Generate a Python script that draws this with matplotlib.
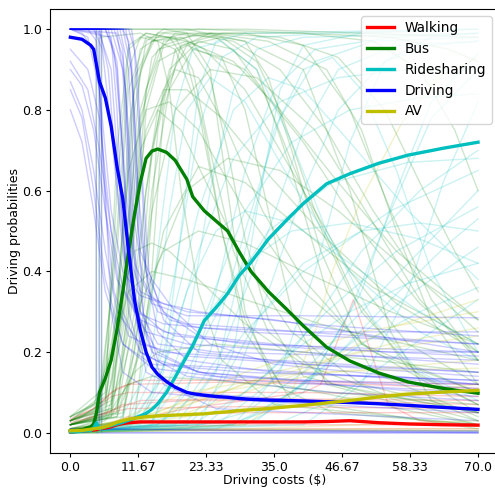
import matplotlib
matplotlib.use("Agg")
import matplotlib.pyplot as plt

# mean curves on a common cost grid
COST = [0, 2, 3.5, 4, 4.5, 5, 6, 7, 8, 9, 10, 11, 12, 13, 14, 15, 16.5, 18,
        20, 21, 23, 25, 27, 29, 31, 34, 37, 40, 44, 48, 53, 58, 64, 70]
WALKING = [0.003, 0.004, 0.006, 0.007, 0.008, 0.01, 0.012, 0.015, 0.02, 0.023,
           0.025, 0.026, 0.027, 0.027, 0.027, 0.027, 0.027, 0.027, 0.027,
           0.027, 0.027, 0.027, 0.027, 0.027, 0.027, 0.027, 0.027, 0.027,
           0.028, 0.03, 0.025, 0.022, 0.02, 0.019]
BUS = [0.005, 0.008, 0.015, 0.022, 0.05, 0.1, 0.135, 0.18, 0.255, 0.35, 0.45,
       0.54, 0.62, 0.68, 0.698, 0.703, 0.695, 0.675, 0.628, 0.585, 0.55,
       0.525, 0.5, 0.448, 0.4, 0.35, 0.308, 0.265, 0.212, 0.178, 0.148, 0.126,
       0.11, 0.098]
RIDESHARING = [0.003, 0.004, 0.006, 0.012, 0.025, 0.01, 0.015, 0.018, 0.022,
               0.026, 0.031, 0.036, 0.042, 0.048, 0.058, 0.072, 0.1, 0.138,
               0.19, 0.215, 0.278, 0.31, 0.345, 0.39, 0.422, 0.48, 0.525,
               0.568, 0.617, 0.642, 0.668, 0.688, 0.705, 0.72]
DRIVING = [0.98, 0.975, 0.96, 0.95, 0.91, 0.87, 0.83, 0.76, 0.66, 0.58, 0.45,
           0.33, 0.255, 0.2, 0.163, 0.145, 0.127, 0.113, 0.1, 0.097, 0.093,
           0.09, 0.088, 0.085, 0.083, 0.081, 0.08, 0.079, 0.077, 0.075, 0.072,
           0.068, 0.063, 0.058]
AV = [0.005, 0.006, 0.009, 0.01, 0.011, 0.012, 0.015, 0.02, 0.026, 0.03,
      0.034, 0.036, 0.038, 0.04, 0.041, 0.042, 0.043, 0.044, 0.045, 0.046,
      0.047, 0.05, 0.052, 0.055, 0.057, 0.06, 0.064, 0.068, 0.074, 0.08,
      0.089, 0.096, 0.101, 0.105]

MODES = ["Walking", "Bus", "Ridesharing", "Driving", "AV"]
COLORS = ["r", "g", "c", "b", "y"]

X_TICKS = [0.0, 11.67, 23.33, 35.0, 46.67, 58.33, 70.0]
X_TICK_LABELS = ["0.0", "11.67", "23.33", "35.0", "46.67", "58.33", "70.0"]
Y_TICKS = [0.0, 0.2, 0.4, 0.6, 0.8, 1.0]

# individual respondents' curves, as (cost, probability) key points
WALK_THIN = [
    [(0, 0.03), (4, 0.05), (7, 0.09), (10, 0.1), (20, 0.1), (40, 0.1), (70, 0.09)],
    [(0, 0.035), (4, 0.06), (7, 0.1), (10, 0.12), (25, 0.125), (50, 0.12), (70, 0.11)],
    [(0, 0.03), (4, 0.06), (8, 0.11), (12, 0.13), (30, 0.13), (50, 0.125), (70, 0.12)],
    [(0, 0.01), (6, 0.02), (10, 0.04), (30, 0.05), (70, 0.05)],
    [(0, 0.02), (5, 0.04), (9, 0.07), (20, 0.08), (45, 0.08), (70, 0.07)],
    [(0, 0.0), (20, 0.06), (40, 0.1), (43, 0.12), (48.6, 0.33), (54.6, 0.07),
     (60, 0.03), (70, 0.02)],
    [(0, 0.005), (10, 0.015), (30, 0.02), (70, 0.02)],
    [(0, 0.02), (6, 0.05), (12, 0.08), (30, 0.085), (70, 0.08)],
    [(0, 0.002), (10, 0.008), (40, 0.01), (70, 0.01)],
    [(0, 0.004), (20, 0.006), (70, 0.005)],
    [(0, 0.025), (5, 0.045), (10, 0.06), (30, 0.065), (70, 0.06)],
]
BUS_THIN = [
    [(0, 0.02), (6, 0.05), (9, 0.3), (11, 0.8), (13, 0.97), (16, 1.0), (20, 0.99),
     (24, 0.9), (27, 0.6), (30, 0.3), (35, 0.12), (45, 0.05), (70, 0.02)],
    [(0, 0.03), (5, 0.06), (8, 0.3), (10, 0.75), (12, 0.95), (16, 0.99), (25, 0.98),
     (32, 0.9), (38, 0.65), (44, 0.35), (52, 0.15), (70, 0.04)],
    [(0, 0.04), (5, 0.1), (8, 0.45), (10, 0.85), (13, 0.98), (18, 0.98), (21, 0.9),
     (24, 0.7), (28, 0.45), (34, 0.25), (45, 0.12), (70, 0.05)],
    [(0, 0.01), (7, 0.04), (10, 0.3), (12, 0.75), (14, 0.93), (18, 0.99), (30, 0.99),
     (40, 0.96), (48, 0.8), (55, 0.55), (62, 0.33), (70, 0.18)],
    [(0, 0.02), (8, 0.05), (11, 0.3), (13, 0.6), (15, 0.8), (18, 0.9), (22, 0.88),
     (27, 0.75), (33, 0.55), (40, 0.38), (50, 0.22), (70, 0.1)],
    [(0, 0.0), (4.4, 0.0), (4.5, 1.0), (30, 1.0), (50, 0.99), (70, 0.98)],
    [(0, 0.0), (5.3, 0.0), (5.4, 1.0), (20, 1.0), (30, 0.97), (40, 0.9), (48, 0.6),
     (55, 0.25), (62, 0.08), (70, 0.03)],
    [(0, 0.0), (4.9, 0.0), (5.0, 0.98), (12, 0.99), (18, 0.95), (22, 0.8),
     (26, 0.5), (30, 0.25), (38, 0.08), (70, 0.01)],
    [(0, 0.02), (6, 0.08), (9, 0.35), (11, 0.45), (14, 0.47), (17, 0.45), (22, 0.38),
     (30, 0.27), (40, 0.17), (55, 0.09), (70, 0.05)],
    [(0, 0.03), (7, 0.06), (10, 0.25), (13, 0.6), (16, 0.85), (20, 0.96), (26, 0.98),
     (32, 0.92), (36, 0.8), (42, 0.55), (50, 0.3), (60, 0.14), (70, 0.07)],
    [(0, 0.02), (5, 0.05), (8, 0.5), (10, 0.9), (12, 0.98), (15, 0.97), (17, 0.85),
     (19, 0.6), (22, 0.35), (26, 0.18), (35, 0.07), (70, 0.02)],
    [(0, 0.04), (6, 0.08), (9, 0.4), (12, 0.8), (15, 0.95), (20, 0.97), (28, 0.92),
     (36, 0.8), (46, 0.62), (56, 0.45), (70, 0.28)],
    [(0, 0.01), (9, 0.03), (12, 0.3), (14, 0.6), (17, 0.85), (21, 0.95), (26, 0.93),
     (30, 0.8), (34, 0.55), (38, 0.3), (44, 0.12), (70, 0.02)],
    [(0, 0.03), (6, 0.06), (9, 0.25), (11, 0.55), (13, 0.75), (16, 0.85), (20, 0.85),
     (26, 0.78), (34, 0.64), (44, 0.48), (56, 0.32), (70, 0.2)],
    [(0, 0.02), (7, 0.05), (10, 0.5), (12, 0.9), (15, 0.99), (22, 1.0), (40, 0.99),
     (52, 0.97), (60, 0.9), (66, 0.75), (70, 0.6)],
    [(0, 0.04), (4, 0.07), (7, 0.2), (10, 0.35), (14, 0.4), (20, 0.38), (30, 0.33),
     (45, 0.26), (70, 0.18)],
    [(0, 0.02), (8, 0.04), (11, 0.2), (14, 0.55), (18, 0.8), (24, 0.9), (32, 0.88),
     (42, 0.75), (52, 0.52), (60, 0.33), (70, 0.18)],
    [(0, 0.03), (6, 0.1), (8, 0.6), (10, 0.95), (13, 0.99), (20, 0.97), (24, 0.88),
     (27, 0.7), (30, 0.48), (34, 0.28), (40, 0.14), (70, 0.03)],
    [(0, 0.01), (10, 0.03), (13, 0.35), (15, 0.75), (18, 0.95), (24, 0.99), (34, 0.97),
     (44, 0.9), (50, 0.75), (56, 0.5), (62, 0.28), (70, 0.12)],
    [(0, 0.02), (7, 0.04), (9, 0.1), (11, 0.15), (15, 0.2), (25, 0.22), (40, 0.2),
     (70, 0.15)],
    [(0, 0.03), (7, 0.08), (9, 0.5), (11, 0.88), (14, 0.97), (19, 0.98), (23, 0.95),
     (30, 0.85), (38, 0.65), (48, 0.4), (58, 0.22), (70, 0.12)],
    [(0, 0.02), (8, 0.06), (11, 0.4), (13, 0.8), (16, 0.96), (22, 0.99), (30, 0.97),
     (34, 0.88), (38, 0.7), (43, 0.45), (50, 0.22), (70, 0.05)],
    [(0, 0.01), (6, 0.03), (8, 0.08), (10, 0.12), (14, 0.14), (25, 0.13), (45, 0.1),
     (70, 0.07)],
    [(0, 0.02), (8, 0.04), (12, 0.2), (15, 0.42), (20, 0.6), (27, 0.68), (36, 0.65),
     (46, 0.55), (58, 0.4), (70, 0.28)],
    [(0, 0.03), (6, 0.07), (9, 0.45), (11, 0.85), (14, 0.97), (20, 0.99), (28, 0.97),
     (36, 0.9), (44, 0.75), (52, 0.55), (60, 0.38), (70, 0.25)],
    [(0, 0.02), (9, 0.04), (12, 0.35), (14, 0.7), (17, 0.9), (22, 0.97), (28, 0.95),
     (33, 0.85), (40, 0.6), (48, 0.35), (58, 0.16), (70, 0.07)],
    [(0, 0.04), (5, 0.08), (8, 0.35), (10, 0.65), (13, 0.8), (17, 0.82), (22, 0.75),
     (30, 0.55), (40, 0.35), (52, 0.2), (70, 0.1)],
    [(0, 0.03), (7, 0.06), (10, 0.4), (12, 0.7), (15, 0.8), (19, 0.75), (24, 0.6),
     (30, 0.42), (38, 0.25), (50, 0.12), (70, 0.05)],
    [(0, 0.02), (6, 0.04), (9, 0.15), (12, 0.32), (16, 0.45), (22, 0.5), (30, 0.47),
     (40, 0.4), (55, 0.3), (70, 0.22)],
    [(0, 0.01), (11, 0.03), (14, 0.4), (16, 0.8), (19, 0.96), (26, 0.99), (40, 0.99),
     (55, 0.98), (65, 0.95), (70, 0.92)],
    [(0, 0.03), (6, 0.09), (8, 0.7), (10, 0.96), (13, 0.99), (17, 0.98), (20, 0.92),
     (23, 0.75), (26, 0.5), (30, 0.28), (36, 0.12), (70, 0.02)],
    [(0, 0.02), (8, 0.05), (11, 0.5), (13, 0.85), (16, 0.97), (24, 0.99), (36, 0.98),
     (46, 0.93), (54, 0.8), (60, 0.62), (66, 0.45), (70, 0.35)],
    [(0, 0.03), (7, 0.07), (10, 0.45), (12, 0.78), (15, 0.92), (20, 0.96), (30, 0.9),
     (40, 0.72), (50, 0.5), (60, 0.32), (70, 0.2)],
    [(0, 0.02), (9, 0.05), (12, 0.22), (16, 0.5), (22, 0.66), (30, 0.62), (40, 0.5),
     (52, 0.36), (70, 0.22)],
    [(0, 0.005), (20, 0.01), (70, 0.005)],
]
RIDE_THIN = [
    [(0, 0), (10, 0.01), (14, 0.1), (18, 0.4), (22, 0.75), (26, 0.93), (32, 0.98),
     (45, 0.99), (70, 1.0)],
    [(0, 0), (15, 0.02), (20, 0.1), (25, 0.35), (30, 0.65), (35, 0.85), (42, 0.95),
     (55, 0.98), (70, 0.99)],
    [(0, 0), (20, 0.02), (28, 0.12), (34, 0.35), (40, 0.6), (46, 0.8), (54, 0.92),
     (62, 0.96), (70, 0.97)],
    [(0, 0), (20, 0.01), (30, 0.05), (40, 0.15), (50, 0.3), (60, 0.45), (70, 0.6)],
    [(0, 0), (25, 0.01), (35, 0.06), (45, 0.18), (55, 0.33), (65, 0.47), (70, 0.53)],
    [(0, 0), (12, 0.02), (16, 0.15), (19, 0.5), (22, 0.85), (25, 0.97), (30, 0.99),
     (70, 1.0)],
    [(0, 0), (15, 0.02), (22, 0.1), (30, 0.25), (40, 0.4), (55, 0.55), (70, 0.65)],
    [(0, 0), (18, 0.02), (25, 0.15), (30, 0.45), (35, 0.75), (40, 0.9), (45, 0.93),
     (50, 0.85), (56, 0.65), (62, 0.4), (70, 0.2)],
    [(0, 0), (10, 0.02), (16, 0.2), (22, 0.55), (28, 0.8), (34, 0.88), (40, 0.85),
     (48, 0.72), (58, 0.55), (70, 0.38)],
    [(0, 0), (30, 0.02), (40, 0.1), (48, 0.3), (55, 0.55), (62, 0.78), (70, 0.9)],
    [(0, 0), (14, 0.03), (20, 0.15), (26, 0.32), (34, 0.5), (45, 0.62), (58, 0.67),
     (70, 0.68)],
    [(0, 0), (22, 0.02), (28, 0.2), (32, 0.55), (36, 0.85), (40, 0.96), (50, 0.99),
     (70, 1.0)],
    [(0, 0), (35, 0.02), (45, 0.08), (55, 0.18), (62, 0.25), (70, 0.33)],
    [(0, 0), (8, 0.02), (12, 0.12), (15, 0.45), (18, 0.8), (21, 0.95), (26, 0.97),
     (32, 0.9), (38, 0.72), (44, 0.5), (52, 0.28), (60, 0.15), (70, 0.08)],
    [(0, 0), (20, 0.03), (26, 0.12), (32, 0.28), (40, 0.42), (50, 0.5), (60, 0.52),
     (70, 0.5)],
    [(0, 0), (40, 0.02), (50, 0.12), (58, 0.35), (64, 0.62), (70, 0.82)],
    [(0, 0), (12, 0.04), (18, 0.15), (24, 0.3), (30, 0.42), (38, 0.5), (48, 0.52),
     (60, 0.48), (70, 0.42)],
    [(0, 0), (28, 0.02), (36, 0.15), (42, 0.4), (48, 0.72), (54, 0.92), (62, 0.98),
     (70, 0.99)],
    [(0, 0), (16, 0.03), (24, 0.2), (30, 0.5), (36, 0.78), (42, 0.92), (52, 0.97),
     (70, 0.98)],
    [(0, 0), (10, 0.03), (14, 0.2), (17, 0.55), (20, 0.8), (24, 0.88), (30, 0.82),
     (38, 0.62), (48, 0.4), (60, 0.25), (70, 0.18)],
    [(0, 0), (30, 0.03), (40, 0.12), (50, 0.22), (60, 0.3), (70, 0.36)],
    [(0, 0), (24, 0.03), (34, 0.15), (44, 0.3), (56, 0.45), (70, 0.56)],
    [(0, 0), (18, 0.04), (26, 0.2), (34, 0.5), (40, 0.75), (46, 0.9), (56, 0.96),
     (70, 0.97)],
    [(0, 0), (12, 0.03), (17, 0.2), (22, 0.45), (28, 0.68), (36, 0.82), (46, 0.88),
     (58, 0.9), (70, 0.9)],
    [(0, 0), (26, 0.03), (34, 0.12), (42, 0.28), (50, 0.45), (60, 0.6), (70, 0.7)],
    [(0, 0), (14, 0.02), (20, 0.25), (24, 0.6), (28, 0.85), (32, 0.95), (40, 0.98),
     (70, 0.99)],
    [(0, 0), (22, 0.03), (30, 0.1), (38, 0.2), (48, 0.3), (58, 0.37), (70, 0.42)],
    [(0, 0), (32, 0.03), (42, 0.15), (50, 0.35), (56, 0.6), (62, 0.82), (70, 0.94)],
    [(0, 0), (10, 0.02), (15, 0.12), (20, 0.35), (25, 0.5), (30, 0.55), (38, 0.52),
     (48, 0.42), (60, 0.3), (70, 0.22)],
    [(0, 0), (28, 0.02), (38, 0.1), (48, 0.22), (58, 0.34), (70, 0.46)],
    [(0, 0), (14, 0.03), (22, 0.25), (30, 0.55), (38, 0.72), (48, 0.8), (60, 0.83),
     (70, 0.84)],
    [(0, 0.003), (30, 0.006), (70, 0.004)],
]
DRIVE_THIN = [
    [(0, 1), (3, 1), (4.5, 0.97), (6, 0.6), (7, 0.3), (9, 0.15), (14, 0.1), (30, 0.08),
     (70, 0.05)],
    [(0, 1), (5, 0.99), (7, 0.9), (8.5, 0.6), (10, 0.35), (13, 0.25), (20, 0.22),
     (40, 0.2), (70, 0.17)],
    [(0, 1), (6, 1), (8, 0.92), (9.5, 0.6), (11, 0.42), (14, 0.32), (20, 0.29),
     (40, 0.29), (70, 0.285)],
    [(0, 1), (7, 1), (9, 0.9), (10, 0.6), (11, 0.3), (13, 0.15), (20, 0.1), (40, 0.08),
     (70, 0.06)],
    [(0, 1), (8, 0.99), (9.5, 0.85), (10.5, 0.5), (12, 0.3), (15, 0.22), (25, 0.2),
     (50, 0.19), (70, 0.18)],
    [(0, 0.9), (2, 0.86), (4, 0.75), (6, 0.55), (8, 0.38), (11, 0.3), (16, 0.27),
     (30, 0.25), (70, 0.22)],
    [(0, 0.87), (2, 0.8), (4, 0.65), (6, 0.45), (8, 0.3), (12, 0.22), (20, 0.19),
     (40, 0.17), (70, 0.14)],
    [(0, 0.85), (2, 0.78), (4, 0.6), (6, 0.38), (9, 0.22), (14, 0.16), (30, 0.13),
     (70, 0.1)],
    [(0, 1), (4, 1), (5.5, 0.95), (7, 0.75), (9, 0.45), (11, 0.3), (15, 0.2), (22, 0.15),
     (40, 0.13), (70, 0.12)],
    [(0, 1), (9, 1), (10.5, 0.9), (11.5, 0.55), (12.5, 0.3), (15, 0.18), (25, 0.14),
     (70, 0.11)],
    [(0, 1), (2, 0.99), (4, 0.95), (5, 0.85), (6, 0.55), (7.5, 0.35), (10, 0.24),
     (16, 0.2), (35, 0.18), (70, 0.15)],
    [(0, 1), (6, 1), (7.5, 0.95), (9, 0.7), (10, 0.45), (12, 0.35), (16, 0.32),
     (22, 0.3), (40, 0.27), (70, 0.24)],
    [(0, 1), (8.5, 1), (10, 0.9), (11, 0.6), (12, 0.45), (14, 0.38), (18, 0.3),
     (24, 0.22), (35, 0.17), (70, 0.12)],
    [(0, 1), (10, 1), (11, 0.95), (12, 0.7), (13, 0.4), (15, 0.25), (20, 0.18),
     (35, 0.15), (70, 0.13)],
    [(0, 1), (4.4, 1), (4.5, 0.0), (70, 0.0)],
    [(0, 1), (5.3, 1), (5.4, 0.0), (70, 0.0)],
    [(0, 1), (4.9, 1), (5.0, 0.01), (70, 0.0)],
    [(0, 1), (7, 0.98), (8, 0.8), (9, 0.5), (10, 0.3), (12, 0.2), (16, 0.17),
     (40, 0.15), (70, 0.12)],
    [(0, 1), (3, 0.98), (5, 0.85), (7, 0.55), (9, 0.4), (12, 0.34), (20, 0.3),
     (35, 0.28), (70, 0.2)],
    [(0, 1), (9, 1), (10, 0.97), (11, 0.8), (12, 0.5), (13.5, 0.35), (17, 0.28),
     (22, 0.26), (40, 0.25), (70, 0.25)],
    [(0, 0.95), (3, 0.9), (5, 0.78), (7, 0.5), (9, 0.3), (12, 0.2), (20, 0.14),
     (45, 0.1), (70, 0.08)],
    [(0, 1), (8, 1), (9, 0.95), (10, 0.7), (11, 0.45), (13, 0.25), (16, 0.12),
     (25, 0.06), (70, 0.03)],
    [(0, 1), (9.5, 1), (10.5, 0.92), (11.5, 0.62), (13, 0.4), (16, 0.3), (22, 0.24),
     (35, 0.22), (55, 0.2), (70, 0.2)],
    [(0, 1), (6.5, 1), (8, 0.9), (9.5, 0.55), (11, 0.32), (14, 0.2), (22, 0.15),
     (45, 0.12), (70, 0.09)],
    [(0, 0.8), (2, 0.72), (4, 0.55), (6, 0.35), (9, 0.22), (14, 0.17), (30, 0.15),
     (70, 0.13)],
    [(0, 1), (5, 1), (6.5, 0.9), (8, 0.62), (9.5, 0.42), (12, 0.3), (16, 0.25),
     (30, 0.22), (70, 0.2)],
    [(0, 1), (7.5, 1), (9, 0.93), (10, 0.75), (11, 0.52), (12.5, 0.38), (15, 0.3),
     (20, 0.27), (40, 0.25), (70, 0.22)],
    [(0, 1), (10.5, 1), (11.5, 0.9), (12.5, 0.6), (13.5, 0.4), (16, 0.28), (22, 0.2),
     (40, 0.17), (70, 0.15)],
    [(0, 0.92), (3, 0.85), (5, 0.7), (7, 0.5), (9, 0.36), (12, 0.28), (18, 0.24),
     (40, 0.21), (70, 0.19)],
    [(0, 0.01), (30, 0.005), (70, 0.003)],
]
AV_THIN = [
    [(0, 0.005), (10, 0.03), (25, 0.1), (45, 0.15), (70, 0.18)],
    [(0, 0.005), (15, 0.05), (30, 0.15), (50, 0.25), (70, 0.3)],
    [(0, 0.0), (30, 0.02), (38, 0.1), (42, 0.25), (45, 0.4), (50, 0.58), (57, 0.77),
     (63, 0.88), (70, 0.93)],
    [(0, 0.003), (12, 0.03), (30, 0.12), (50, 0.2), (70, 0.24)],
    [(0, 0.003), (20, 0.05), (40, 0.15), (55, 0.26), (70, 0.33)],
    [(0, 0.002), (10, 0.02), (30, 0.06), (70, 0.12)],
    [(0, 0.004), (8, 0.03), (20, 0.1), (40, 0.15), (70, 0.16)],
    [(0, 0.003), (15, 0.04), (35, 0.15), (55, 0.22), (70, 0.26)],
    [(0, 0.001), (30, 0.01), (70, 0.03)],
    [(0, 0.001), (20, 0.005), (50, 0.01), (70, 0.01)],
]


def _draw_thin(ax: plt.Axes, curves, color):
    for c in curves:
        xs, ys = zip(*c)
        ax.plot(xs, ys, color=color, alpha=0.2, lw=1.0)


def run():
    plt.rcParams["font.family"] = "DejaVu Sans"
    fig = plt.figure(figsize=(4.95, 4.9), dpi=100)
    ax = fig.add_axes([50 / 495, 37 / 490, 448.4 / 495, 444 / 490])

    thin = [WALK_THIN, BUS_THIN, RIDE_THIN, DRIVE_THIN, AV_THIN]
    for curves, col in zip(thin, COLORS):
        _draw_thin(ax, curves, col)

    means = [WALKING, BUS, RIDESHARING, DRIVING, AV]
    for name, ys, col in zip(MODES, means, COLORS):
        ax.plot(COST, ys, color=col, lw=2.4, label=name)

    ax.set_xlim(-3.5, 73.5)
    ax.set_ylim(-0.05, 1.05)
    ax.set_xticks(X_TICKS)
    ax.set_xticklabels(X_TICK_LABELS)
    ax.set_yticks(Y_TICKS)
    ax.tick_params(labelsize=9, length=3, pad=2.5)
    ax.set_xlabel("Driving costs ($)", fontsize=9)
    ax.set_ylabel("Driving probabilities", fontsize=9)
    ax.xaxis.set_label_coords(0.5, -0.048)
    ax.yaxis.set_label_coords(-0.064, 0.5)
    ax.legend(loc="upper right", fontsize=9.8)
    fig.savefig("out.png", dpi=100)


run()
